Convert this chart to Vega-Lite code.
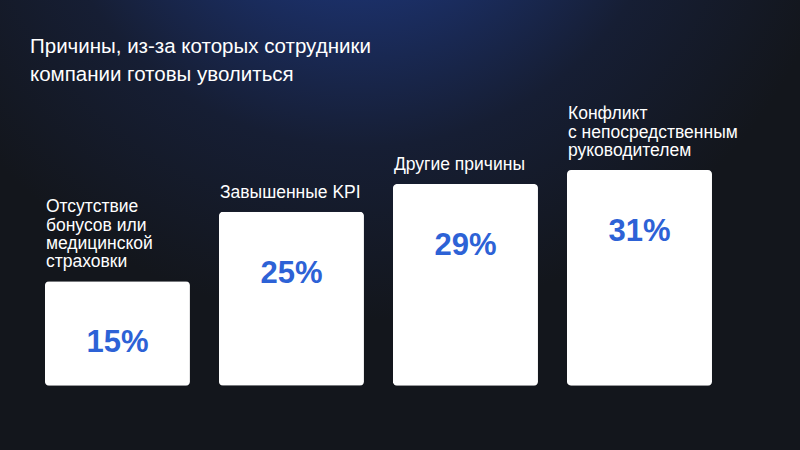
{
  "$schema": "https://vega.github.io/schema/vega-lite/v6.json",
  "width": 800,
  "height": 450,
  "padding": 0,
  "autosize": {"type": "none"},
  "background": "#13161c",
  "config": {
    "view": {
      "stroke": null,
      "fill": {
        "gradient": "radial",
        "x1": 0.45, "y1": 0, "r1": 0,
        "x2": 0.45, "y2": 0, "r2": 0.62,
        "stops": [
          {"offset": 0, "color": "#1f3a7a"},
          {"offset": 0.35, "color": "#1b2f66"},
          {"offset": 0.65, "color": "#161e34"},
          {"offset": 1, "color": "#13161c"}
        ]
      }
    },
    "text": {"font": "Liberation Sans, Arial, sans-serif", "fontSize": 17.5, "color": "#ffffff", "align": "left", "baseline": "alphabetic", "dx": 1}
  },
  "title": {
    "text": ["Причины, из-за которых сотрудники", "компании готовы уволиться"],
    "anchor": "start",
    "frame": "group",
    "orient": "top",
    "offset": -85,
    "dx": 30,
    "baseline": "top",
    "font": "Liberation Sans, Arial, sans-serif",
    "fontSize": 20.5,
    "fontWeight": "normal",
    "lineHeight": 28,
    "color": "#ffffff"
  },
  "data": {
    "values": [
      {"cat": "a", "l3": "Отсутствие", "l2": "бонусов или", "l1": "медицинской", "l0": "страховки", "value": 0.15},
      {"cat": "b", "l0": "Завышенные KPI", "value": 0.25},
      {"cat": "c", "l0": "Другие причины", "value": 0.29},
      {"cat": "d", "l2": "Конфликт", "l1": "с непосредственным", "l0": "руководителем", "value": 0.31}
    ]
  },
  "encoding": {
    "x": {
      "field": "cat",
      "type": "nominal",
      "sort": null,
      "axis": null,
      "scale": {"paddingInner": 0.1667, "paddingOuter": 0.382, "align": 0.338}
    },
    "y": {
      "field": "value",
      "type": "quantitative",
      "axis": null,
      "scale": {"domain": [-0.0925, 0.5545], "zero": false, "nice": false}
    }
  },
  "layer": [
    {
      "mark": {"type": "bar", "color": "#ffffff", "cornerRadius": 4}
    },
    {
      "transform": [{"filter": "isValid(datum.l3)"}],
      "mark": {"type": "text", "dy": -69},
      "encoding": {
        "x": {"field": "cat", "type": "nominal", "sort": null, "bandPosition": 0},
        "text": {"field": "l3"}
      }
    },
    {
      "transform": [{"filter": "isValid(datum.l2)"}],
      "mark": {"type": "text", "dy": -50.7},
      "encoding": {
        "x": {"field": "cat", "type": "nominal", "sort": null, "bandPosition": 0},
        "text": {"field": "l2"}
      }
    },
    {
      "transform": [{"filter": "isValid(datum.l1)"}],
      "mark": {"type": "text", "dy": -32.4},
      "encoding": {
        "x": {"field": "cat", "type": "nominal", "sort": null, "bandPosition": 0},
        "text": {"field": "l1"}
      }
    },
    {
      "transform": [{"filter": "isValid(datum.l0)"}],
      "mark": {"type": "text", "dy": -14.1},
      "encoding": {
        "x": {"field": "cat", "type": "nominal", "sort": null, "bandPosition": 0},
        "text": {"field": "l0"}
      }
    },
    {
      "mark": {
        "type": "text",
        "align": "center",
        "baseline": "alphabetic",
        "dx": 0,
        "dy": 71,
        "fontSize": 31,
        "fontWeight": "bold",
        "color": "#2d62d6"
      },
      "encoding": {
        "text": {"field": "value", "format": ".0%"}
      }
    }
  ]
}
